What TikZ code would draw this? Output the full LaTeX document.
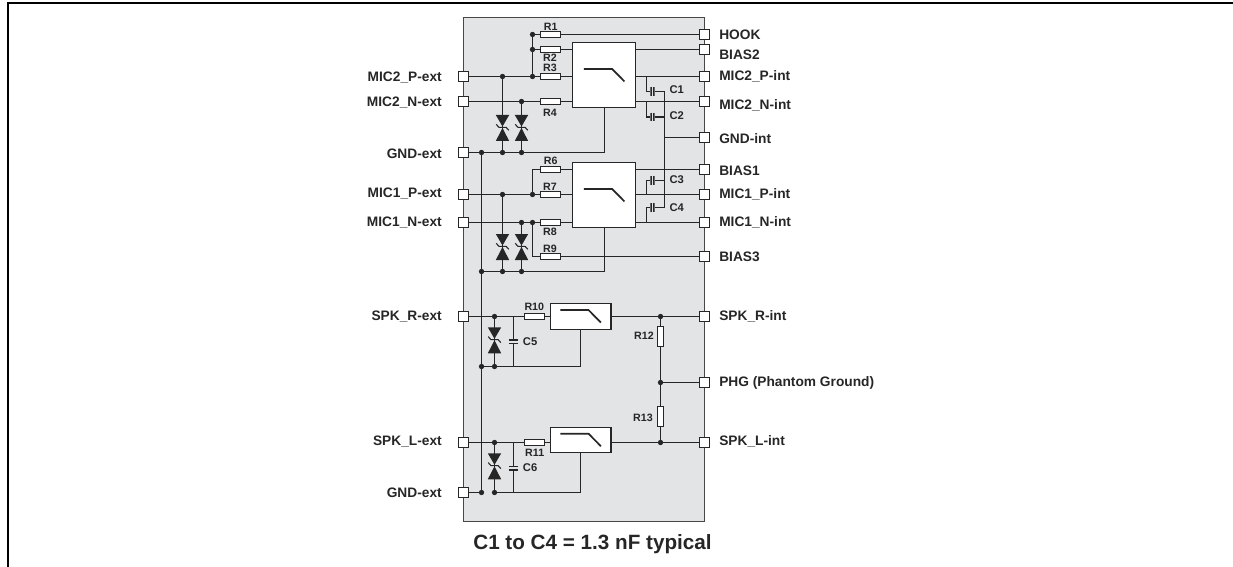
\documentclass[tikz,border=0pt]{standalone}
\usepackage{fontspec}
\setmainfont{Liberation Sans}
\definecolor{boxgray}{HTML}{E3E4E5}
\definecolor{ink}{HTML}{262626}
\pgfdeclarelayer{bg}
\pgfdeclarelayer{wire}
\pgfsetlayers{bg,wire,main}
\tikzset{
  wirel/.style={draw=ink,line width=0.85pt},
  port/.style={draw=ink,fill=white,line width=0.75pt,minimum size=7.5pt,inner sep=0pt,outer sep=0pt},
  resh/.style={draw=ink,fill=white,line width=0.7pt,minimum width=15pt,minimum height=4.2pt,inner sep=0pt,outer sep=0pt},
  resv/.style={draw=ink,fill=white,line width=0.7pt,minimum width=4.8pt,minimum height=15pt,inner sep=0pt,outer sep=0pt},
  jdot/.style={circle,fill=ink,minimum size=4pt,inner sep=0pt,outer sep=0pt},
  lab/.style={font=\bfseries\fontsize{10.3}{12}\selectfont,text=ink,inner sep=0pt},
  llab/.style={lab,anchor=east},
  rlab/.style={lab,anchor=west},
  small/.style={font=\bfseries\fontsize{8}{9}\selectfont,text=ink,inner sep=0pt},
  capt/.style={font=\bfseries\fontsize{8.4}{9}\selectfont,text=ink,inner sep=0pt,anchor=west},
  filt/.style={draw=ink,fill=white,line width=0.85pt,inner sep=0pt,outer sep=0pt,
    path picture={\begin{scope}[shift={(path picture bounding box.center)}]
      \draw[ink,line width=1.3pt] (-20.3,-6.3)--(7.8,-6.3)--(20.2,6.2);
    \end{scope}}},
  filtbig/.style={filt,minimum width=47.2pt,minimum height=48.7pt},
  filtsmall/.style={filt,minimum width=45.5pt,minimum height=19.3pt},
  tvs/.style={inner sep=0pt,outer sep=0pt,minimum width=10.6pt,minimum height=19.8pt,
    path picture={\begin{scope}[shift={(path picture bounding box.center)}]
      \fill[ink] (-6.7,-13)--(6.7,-13)--(0,-1.5)--cycle;
      \fill[ink] (-6.7,13)--(6.7,13)--(0,0)--cycle;
      \draw[ink,line width=0.8pt] (-6.3,-3.7)--(-3.6,-0.7)--(3.6,-0.7)--(6.3,2.3);
    \end{scope}}},
  caph/.style={fill=boxgray,inner sep=0pt,outer sep=0pt,minimum width=3.2pt,minimum height=6.4pt,
    path picture={\draw[ink,line width=2pt] (path picture bounding box.north west)--(path picture bounding box.south west)
      (path picture bounding box.north east)--(path picture bounding box.south east);}},
  capv/.style={fill=boxgray,inner sep=0pt,outer sep=0pt,minimum width=6.4pt,minimum height=3.0pt,
    path picture={\draw[ink,line width=1.5pt] (path picture bounding box.north west)--(path picture bounding box.north east)
      (path picture bounding box.south west)--(path picture bounding box.south east);}},
}
\begin{document}
\begin{tikzpicture}[x=0.75pt,y=-0.75pt]
\useasboundingbox (0,0) rectangle (1233,567);
% page frame
\draw[black,line width=1.5pt] (8,567)--(8,3.2)--(1233,3.2);
% body
\begin{pgfonlayer}{bg}
\node[draw=ink!85,fill=boxgray,line width=0.85pt,minimum width=180.6pt,minimum height=378pt,inner sep=0pt,outer sep=0pt] (body) at (584,269.8) {};
\end{pgfonlayer}
% ports left
\node[port] (pM2Pe) at (463.5,76.5) {};
\node[port] (pM2Ne) at (463.5,101.5) {};
\node[port] (pG1e) at (463.5,152.5) {};
\node[port] (pM1Pe) at (463.5,194.5) {};
\node[port] (pM1Ne) at (463.5,222.5) {};
\node[port] (pSRe) at (463.5,316.5) {};
\node[port] (pSLe) at (463.5,442.5) {};
\node[port] (pG2e) at (463.5,492.5) {};
% ports right
\node[port] (pHook) at (704.5,34.5) {};
\node[port] (pB2) at (704.5,49.5) {};
\node[port] (pM2Pi) at (704.5,76.5) {};
\node[port] (pM2Ni) at (704.5,101.5) {};
\node[port] (pGi) at (704.5,137.5) {};
\node[port] (pB1) at (704.5,169.5) {};
\node[port] (pM1Pi) at (704.5,194.5) {};
\node[port] (pM1Ni) at (704.5,222.5) {};
\node[port] (pB3) at (704.5,256.5) {};
\node[port] (pSRi) at (704.5,316.5) {};
\node[port] (pPHG) at (704.5,382.5) {};
\node[port] (pSLi) at (704.5,442.5) {};
% labels left
\node[llab] (tM2Pe) at (442,77.5) {MIC2\_P-ext};
\node[llab] (tM2Ne) at (442,102.5) {MIC2\_N-ext};
\node[llab] (tG1e) at (442,153.5) {GND-ext};
\node[llab] (tM1Pe) at (442,194) {MIC1\_P-ext};
\node[llab] (tM1Ne) at (442,222.5) {MIC1\_N-ext};
\node[llab] (tSRe) at (442,317) {SPK\_R-ext};
\node[llab] (tSLe) at (442,442) {SPK\_L-ext};
\node[llab] (tG2e) at (442,493) {GND-ext};
% labels right
\node[rlab] (tHook) at (719,34.5) {HOOK};
\node[rlab] (tB2) at (719,54.5) {BIAS2};
\node[rlab] (tM2Pi) at (719,76.5) {MIC2\_P-int};
\node[rlab] (tM2Ni) at (719,105.5) {MIC2\_N-int};
\node[rlab] (tGi) at (719,138.5) {GND-int};
\node[rlab] (tB1) at (719,170.5) {BIAS1};
\node[rlab] (tM1Pi) at (719,194.5) {MIC1\_P-int};
\node[rlab] (tM1Ni) at (719,222.5) {MIC1\_N-int};
\node[rlab] (tB3) at (719,256.5) {BIAS3};
\node[rlab] (tSRi) at (719,316.5) {SPK\_R-int};
\node[rlab] (tPHG) at (719,382.5) {PHG (Phantom Ground)};
\node[rlab] (tSLi) at (719,441.5) {SPK\_L-int};
\node[font=\bfseries\fontsize{15.5}{18}\selectfont,text=ink,inner sep=0pt] (title) at (592.5,544) {C1 to C4 = 1.3 nF typical};
% filters
\node[filtbig] (F1) at (604.2,75.2) {};
\node[filtbig] (F2) at (604.2,195.2) {};
\node[filtsmall] (F3) at (580.7,316.3) {};
\node[filtsmall] (F4) at (580.7,440) {};
% resistors
\node[resh] (R1) at (550,34.5) {};
\node[resh] (R2) at (550,49.5) {};
\node[resh] (R3) at (550,76.5) {};
\node[resh] (R4) at (550,101.5) {};
\node[resh] (R6) at (550,169.5) {};
\node[resh] (R7) at (550,194.5) {};
\node[resh] (R8) at (550,222.5) {};
\node[resh] (R9) at (550,256.5) {};
\node[resh] (R10) at (534.3,316.5) {};
\node[resh] (R11) at (534.3,442.5) {};
\node[resv] (R12) at (660.5,336) {};
\node[resv] (R13) at (660.5,416.7) {};
% resistor labels
\node[small] (tR1) at (550.7,27.3) {R1};
\node[small] (tR2) at (550,58) {R2};
\node[small] (tR3) at (550,68) {R3};
\node[small] (tR4) at (550,112.7) {R4};
\node[small] (tR6) at (550.7,161) {R6};
\node[small] (tR7) at (550,187) {R7};
\node[small] (tR8) at (550,232.3) {R8};
\node[small] (tR9) at (550,249.3) {R9};
\node[small] (tR10) at (534.3,307.3) {R10};
\node[small] (tR11) at (534.7,452.7) {R11};
\node[small] (tR12) at (644,336) {R12};
\node[small] (tR13) at (643,417.7) {R13};
% capacitors
\node[caph] (C1) at (652.5,91.5) {};
\node[caph] (C2) at (652.5,117) {};
\node[caph] (C3) at (652.5,180.5) {};
\node[caph] (C4) at (652.5,207.5) {};
\node[capv] (C5) at (513.5,341.7) {};
\node[capv] (C6) at (513.5,468) {};
\node[capt] (tC1) at (669.3,89.3) {C1};
\node[capt] (tC2) at (669.3,115.7) {C2};
\node[capt] (tC3) at (669.3,180) {C3};
\node[capt] (tC4) at (669.3,207.3) {C4};
\node[capt] (tC5) at (522.7,341.7) {C5};
\node[capt] (tC6) at (522.7,468) {C6};
% diodes
\node[tvs] (D1) at (502.5,128) {};
\node[tvs] (D2) at (521.5,128) {};
\node[tvs] (D3) at (502.5,247) {};
\node[tvs] (D4) at (521.5,247) {};
\node[tvs] (D5) at (494.5,340.3) {};
\node[tvs] (D6) at (494.5,466.3) {};
% junctions
\node[jdot] (j1) at (532.5,34.5) {};
\node[jdot] (j2) at (532.5,49.5) {};
\node[jdot] (j3) at (532.5,76.5) {};
\node[jdot] (a1) at (502.5,76.5) {};
\node[jdot] (a2) at (521.5,101.5) {};
\node[jdot] (g1) at (481.5,152.5) {};
\node[jdot] (g2) at (502.5,152.5) {};
\node[jdot] (g3) at (521.5,152.5) {};
\node[jdot] (j6) at (532.5,194.5) {};
\node[jdot] (a3) at (502.5,194.5) {};
\node[jdot] (a4) at (521.5,222.5) {};
\node[jdot] (j8) at (532.5,222.5) {};
\node[jdot] (g4) at (481.5,271.5) {};
\node[jdot] (g5) at (502.5,271.5) {};
\node[jdot] (g6) at (521.5,271.5) {};
\node[jdot] (a5) at (494.5,316.5) {};
\node[jdot] (g7) at (481.5,366.5) {};
\node[jdot] (g8) at (494.5,366.5) {};
\node[jdot] (a6) at (494.5,442.5) {};
\node[jdot] (g9) at (481.5,492.5) {};
\node[jdot] (g10) at (494.5,492.5) {};
\node[jdot] (k1) at (660.5,316.5) {};
\node[jdot] (k2) at (660.5,382.5) {};
\node[jdot] (k3) at (660.5,442.5) {};
% free points
\coordinate (busT) at (664.5,91.5);
\coordinate (busB) at (664.5,207.5);
\coordinate (c1a) at (646.5,76.5);
\coordinate (c2a) at (646.5,101.5);
\coordinate (c3a) at (646.5,194.5);
\coordinate (c4a) at (646.5,222.5);
\coordinate (c5a) at (513.5,316.5);
\coordinate (c5b) at (513.5,366.5);
\coordinate (c6a) at (513.5,442.5);
\coordinate (c6b) at (513.5,492.5);
\coordinate (r9a) at (532.5,256.5);
\begin{pgfonlayer}{wire}
\path[wirel]
  (j1)--(pHook) (j1)--(j3) (j2)--(R2) (R2)--(R2-|F1.west) (pB2-|F1.east)--(pB2)
  (pM2Pe)--(R3) (R3)--(R3-|F1.west) (pM2Ne)--(R4) (R4)--(R4-|F1.west)
  (pM2Pi-|F1.east)--(pM2Pi) (pM2Ni-|F1.east)--(pM2Ni)
  (c1a)|-(C1) (C1)--(busT) (c2a)|-(C2) (C2)--(C2-|busT) (busT)--(busB)
  (pGi-|busT)--(pGi)
  (a1)--(g2) (a2)--(g3)
  (pG1e)--(g3) (g3)-|(F1.south)
  (g1)--(g9) (pG2e)--(g9)
  (R6-|j6)--(R6) (R6-|j6)--(j6) (R6)--(R6-|F2.west)
  (pB1-|F2.east)--(pB1)
  (pM1Pe)--(R7) (R7)--(R7-|F2.west) (pM1Ne)--(R8) (R8)--(R8-|F2.west)
  (pM1Pi-|F2.east)--(pM1Pi) (pM1Ni-|F2.east)--(pM1Ni)
  (c3a)|-(C3) (C3)--(C3-|busT) (c4a)|-(C4) (C4)--(busB)
  (j8)--(r9a) (r9a)--(R9) (R9)--(pB3)
  (a3)--(g5) (a4)--(g6)
  (g4)--(g6) (g6)-|(F2.south)
  (pSRe)--(R10) (R10)--(R10-|F3.west) (pSRi-|F3.east)--(pSRi)
  (a5)--(g8) (c5a)--(C5) (C5)--(c5b)
  (g7)--(g8) (g8)-|(F3.south)
  (pSLe)--(R11) (R11)--(R11-|F4.west) (pSLi-|F4.east)--(pSLi)
  (a6)--(g10) (c6a)--(C6) (C6)--(c6b)
  (g10)-|(F4.south)
  (k1)--(R12) (R12)--(k2) (k2)--(R13) (R13)--(k3) (k2)--(pPHG);
\end{pgfonlayer}
\end{tikzpicture}
\end{document}
